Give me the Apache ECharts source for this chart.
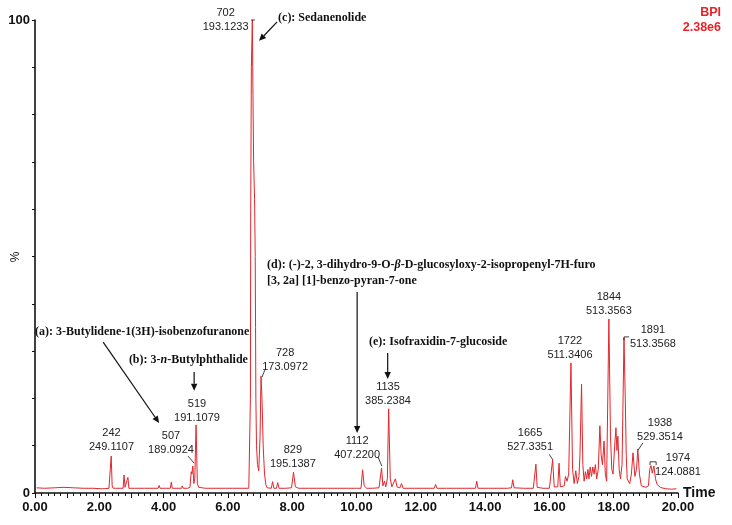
<!DOCTYPE html>
<html>
<head>
<meta charset="utf-8">
<script src="https://cdn.jsdelivr.net/npm/echarts@6/dist/echarts.min.js"></script>
<style>
html,body{margin:0;padding:0;background:#fff;}
#chart{width:732px;height:525px;}
</style>
</head>
<body>
<div id="chart"></div>
<script>
// Retention time (min) and relative intensity (%)
const times = [
0.05,0.3,0.6,0.9,1.2,1.5,1.8,2.05,2.1,2.15,2.3,
2.34,2.37,2.40,2.43,2.5,2.65,
2.74,2.77,2.80,2.86,2.89,2.92,
3.1,3.4,3.7,3.83,3.86,3.89,4.05,4.21,4.24,4.27,4.45,4.56,4.58,4.61,4.75,
4.82,4.86,4.88,4.91,4.94,4.97,5.01,5.05,5.09,
5.3,5.6,5.9,6.15,6.2,6.25,6.5,6.65,
6.69,6.70,6.71,6.73,6.76,6.78,6.80,6.83,6.85,6.86,6.87,6.89,6.92,6.96,
7.00,7.03,7.06,7.10,7.14,7.18,7.22,
7.35,7.39,7.43,7.51,7.55,7.59,7.8,7.98,8.04,8.10,8.2,
8.5,8.8,9.1,9.4,9.7,10.0,10.14,10.19,10.24,10.28,10.32,10.5,10.7,
10.78,10.82,10.87,10.91,10.96,11.0,11.05,11.10,11.16,11.21,11.26,11.35,11.40,11.45,
11.8,12.1,12.42,12.46,12.5,12.8,13.1,13.4,13.7,13.74,13.78,14.1,14.4,14.7,14.82,14.86,14.9,
15.2,15.5,15.55,15.58,15.62,15.8,16.0,16.06,16.1,16.15,16.2,16.26,16.3,16.34,16.4,16.46,16.5,16.55,
16.6,16.67,16.72,16.77,16.82,16.87,16.92,16.95,17.0,17.04,17.08,17.12,17.16,17.2,17.23,17.27,17.31,
17.35,17.39,17.43,17.47,17.52,17.57,17.61,17.65,17.7,17.74,17.78,17.85,17.9,17.94,17.98,18.03,18.07,
18.1,18.13,18.17,18.21,18.26,18.32,18.36,18.39,18.42,18.46,18.5,18.55,18.6,18.66,18.71,18.75,18.8,
18.86,18.92,19.0,19.08,19.12,19.16,19.2,19.25,19.3,19.35,19.45,19.6,19.8,19.95
];
const intensity = [
1.1,1.0,1.1,1.2,1.1,1.0,1.0,0.9,1.2,0.9,1.0,
1.0,7.8,1.5,1.0,1.0,1.0,
1.0,3.8,1.2,1.1,3.3,1.0,
1.0,1.0,1.0,1.0,1.6,1.0,1.0,1.0,2.3,1.0,1.0,1.0,1.5,1.0,1.0,
1.2,4.5,4.0,5.7,2.0,3.0,14.4,2.0,1.2,
1.0,1.0,1.0,1.0,1.4,1.0,1.0,1.0,
1.1,20,60,90,100,84,70,62,50,35,20,10,6,4.7,
12,24.7,20,9.5,4,1.8,1.1,
1.0,2.4,1.0,1.0,2.2,1.0,1.0,1.1,4.4,1.3,1.0,
1.0,1.0,1.0,1.0,1.0,1.0,1.0,4.9,1.5,1.8,1.0,1.0,1.1,
5.3,1.5,2.5,1.3,3.0,17.8,3.0,1.3,1.5,3.0,1.3,1.1,2.0,1.0,
1.0,1.0,1.0,1.8,1.0,1.0,1.0,1.0,1.0,2.5,1.0,1.0,1.0,1.0,1.1,2.8,1.1,
1.0,1.0,1.2,6.1,1.2,1.0,1.0,1.2,7.0,1.3,1.2,1.3,6.3,1.3,1.2,1.5,3.5,2.5,
4.0,27.5,5.0,2.0,4.7,2.0,3.5,8.0,23.0,6.0,2.5,4.5,3.0,5.0,3.0,5.5,3.5,
5.5,4.0,6.0,3.0,5.0,14.2,8.0,6.0,11.0,4.0,2.5,36.8,12.0,5.0,4.0,10.0,13.8,
9.0,12.0,5.0,3.0,6.0,32.8,20.0,8.0,3.0,3.0,2.0,4.0,8.5,3.5,5.0,9.3,4.0,
1.5,1.3,1.2,1.5,5.0,5.8,4.2,5.7,3.0,1.8,1.2,0.9,0.8,0.9
];
const xTicks = [0,2,4,6,8,10,12,14,16,18,20];
const yTickLabels = [0,100];

// Peak labels: [scan, m/z, time anchor, % anchor]
const peakLabels = [
  ['702','193.1233',5.93,100.0],
  ['242','249.1107',2.38,11.2],
  ['507','189.0924',4.23,10.5],
  ['519','191.1079',5.04,17.4],
  ['728','173.0972',7.78,28.1],
  ['829','195.1387',8.02,7.6],
  ['1112','407.2200',10.02,9.6],
  ['1135','385.2384',10.98,20.9],
  ['1665','527.3351',15.40,11.3],
  ['1722','511.3406',16.64,30.7],
  ['1844','513.3563',17.85,40.0],
  ['1891','513.3568',19.22,32.9],
  ['1938','529.3514',19.44,13.3],
  ['1974','124.0881',20.00,5.9]
];

const chart = echarts.init(document.getElementById('chart'));
const data = times.map((t,i)=>[t,intensity[i]]);

const option = {
  animation:false,
  backgroundColor:'#fff',
  grid:{left:35,right:54,top:20,bottom:32,containLabel:false,outerBoundsMode:'none'},
  xAxis:{
    type:'value',min:0,max:20,interval:1,
    name:'Time',nameLocation:'end',nameGap:5,
    nameTextStyle:{fontFamily:'Liberation Sans',fontWeight:'bold',fontSize:14,color:'#111',verticalAlign:'middle',padding:[4,0,0,0]},
    axisLine:{lineStyle:{color:'#111',width:1.6}},
    axisTick:{show:true,length:5,lineStyle:{color:'#111',width:1}},
    minorTick:{show:true,splitNumber:5,length:3,lineStyle:{color:'#111',width:1}},
    splitLine:{show:false},
    axisLabel:{margin:8,fontFamily:'Liberation Sans',fontWeight:'bold',fontSize:13,color:'#111',
      formatter:v=> xTicks.indexOf(v)>=0 ? v.toFixed(2) : ''}
  },
  yAxis:{
    type:'value',min:0,max:100,interval:10,
    axisLine:{show:true,lineStyle:{color:'#111',width:1.6}},
    axisTick:{show:true,length:3,lineStyle:{color:'#111',width:1}},
    splitLine:{show:false},
    axisLabel:{margin:5,fontFamily:'Liberation Sans',fontWeight:'bold',fontSize:13,color:'#111',
      formatter:v=> yTickLabels.indexOf(v)>=0 ? String(v) : ''}
  },
  series:[{
    type:'line',data:data,showSymbol:false,symbol:'none',
    lineStyle:{color:'#e3262c',width:1},
    z:2
  }]
};
chart.setOption(option);

function P(t,v){return chart.convertToPixel({gridIndex:0},[t,v]);}
const g = [];
const labelFont = '11px "Liberation Sans", Arial, sans-serif';
peakLabels.forEach(l=>{
  const p = P(l[2],l[3]);
  g.push({type:'text',z:10,style:{text:l[0]+'\n'+l[1],x:p[0],y:p[1],align:'center',verticalAlign:'middle',
    font:labelFont,fill:'#222',lineHeight:14}});
});
function line(a,b,w){
  const p1=P(a[0],a[1]),p2=P(b[0],b[1]);
  g.push({type:'line',z:10,shape:{x1:p1[0],y1:p1[1],x2:p2[0],y2:p2[1]},style:{stroke:'#111',lineWidth:w||1}});
}
function arrow(a,b){
  const p1=P(a[0],a[1]),p2=P(b[0],b[1]);
  const dx=p2[0]-p1[0],dy=p2[1]-p1[1],L=Math.sqrt(dx*dx+dy*dy),ux=dx/L,uy=dy/L;
  const hl=7,hw=3.2;
  const bx=p2[0]-ux*hl,by=p2[1]-uy*hl;
  g.push({type:'line',z:10,shape:{x1:p1[0],y1:p1[1],x2:bx,y2:by},style:{stroke:'#111',lineWidth:1.2}});
  g.push({type:'polygon',z:10,shape:{points:[[p2[0],p2[1]],[bx-uy*hw,by+ux*hw],[bx+uy*hw,by-ux*hw]]},style:{fill:'#111'}});
}
const serif = '"Liberation Serif","Times New Roman",serif';
function ann(t,v,rich,txt){
  const p=P(t,v);
  g.push({type:'text',z:10,style:{text:txt,x:p[0],y:p[1],align:'left',verticalAlign:'middle',
    rich:rich,font:'bold 12px '+serif,fill:'#111'}});
}
const rich = {
  b:{fontFamily:serif,fontWeight:'bold',fontSize:12,fill:'#111'},
  i:{fontFamily:serif,fontWeight:'bold',fontStyle:'italic',fontSize:12,fill:'#111'}
};
ann(0.0,34.0,rich,'{b|(a): 3-Butylidene-1(3H)-isobenzofuranone}');
ann(2.92,28.1,rich,'{b|(b): 3-}{i|n}{b|-Butylphthalide}');
ann(7.56,100.4,rich,'{b|(c): Sedanenolide}');
ann(7.22,48.2,rich,'{b|(d): (-)-2, 3-dihydro-9-O-}{i|β}{b|-D-glucosyloxy-2-isopropenyl-7H-furo}');
ann(7.22,44.8,rich,'{b|[3, 2a] [1]-benzo-pyran-7-one}');
ann(10.39,31.9,rich,'{b|(e): Isofraxidin-7-glucoside}');

arrow([2.12,31.9],[3.86,14.8]);
arrow([4.95,25.6],[4.95,21.6]);
arrow([7.53,99.6],[6.97,95.6]);
arrow([10.02,42.5],[10.02,12.7]);
arrow([10.97,29.6],[10.97,24.1]);

// leader lines from labels to peaks
line([4.76,7.8],[4.95,6.3],0.8);
line([7.15,26.0],[7.06,24.5],0.8);
line([10.67,7.6],[10.79,5.7],0.8);
line([15.99,8.2],[16.11,7.0],0.8);
line([18.91,10.6],[18.76,9.1],0.8);
line([18.32,33.0],[18.48,33.0],0.8);
line([18.32,33.0],[18.32,32.3],0.8);
line([19.13,6.6],[19.32,6.6],0.8);
line([19.13,6.6],[19.13,5.9],0.8);
line([19.32,6.6],[19.32,5.9],0.8);
line([6.72,100.0],[6.84,100.0],0.8);

// y axis title
g.push({type:'text',z:10,x:16,y:257,rotation:Math.PI/2,style:{text:'%',x:0,y:0,align:'center',verticalAlign:'middle',
  font:'12px "Liberation Sans", Arial, sans-serif',fill:'#111'}});

// BPI header
g.push({type:'text',z:10,style:{text:'BPI\n2.38e6',x:721,y:20,align:'right',verticalAlign:'middle',
  font:'bold 12.5px "Liberation Sans", Arial, sans-serif',fill:'#e8232a',lineHeight:15}});

chart.setOption({graphic:g});
</script>
</body>
</html>
